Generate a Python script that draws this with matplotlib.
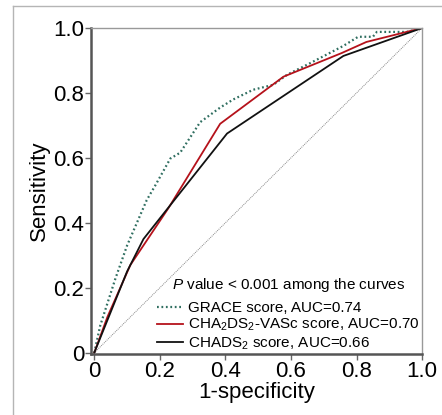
import matplotlib
matplotlib.use("Agg")
import matplotlib.pyplot as plt
from matplotlib.lines import Line2D

plt.rcParams['font.family'] = ['Liberation Sans', 'DejaVu Sans']
plt.rcParams['mathtext.fontset'] = 'custom'
plt.rcParams['mathtext.rm'] = 'Liberation Sans'
plt.rcParams['mathtext.it'] = 'Liberation Sans:italic'

# ROC curve points
grace_x = [0, 0.018, 0.064, 0.10, 0.13, 0.16, 0.186, 0.232, 0.262, 0.323, 0.384, 0.424,
           0.485, 0.546, 0.588, 0.659, 0.76, 0.805, 0.85, 0.862, 0.954, 1.0]
grace_y = [0, 0.083, 0.227, 0.33, 0.40, 0.47, 0.515, 0.598, 0.616, 0.71, 0.755, 0.78,
           0.81, 0.825, 0.856, 0.892, 0.945, 0.973, 0.973, 0.988, 0.988, 1.0]
cha2_x = [0, 0.04, 0.11, 0.226, 0.384, 0.577, 0.755, 0.83, 1.0]
cha2_y = [0, 0.11, 0.27, 0.445, 0.705, 0.85, 0.923, 0.957, 1.0]
chads_x = [0, 0.04, 0.10, 0.15, 0.405, 0.76, 1.0]
chads_y = [0, 0.10, 0.25, 0.35, 0.675, 0.914, 1.0]

labels = ['GRACE score, AUC=0.74',
          r'CHA$_2$DS$_2$-VASc score, AUC=0.70',
          r'CHADS$_2$ score, AUC=0.66']
ticks = [0, 0.2, 0.4, 0.6, 0.8, 1.0]
tick_labels = ['0', '0.2', '0.4', '0.6', '0.8', '1.0']

fig = plt.figure(figsize=(4.42, 4.15), dpi=100)
ax = fig.add_axes([0.2059, 0.147, 0.749, 0.7855])

# outer frame of the figure panel
fig.add_artist(Line2D([13/442, 13/442], [0, 1 - 6/415], transform=fig.transFigure,
                      color='#b5b5b5', lw=1))
fig.add_artist(Line2D([13/442, 1], [1 - 6/415, 1 - 6/415], transform=fig.transFigure,
                      color='#b5b5b5', lw=1))

ax.plot([0, 1], [0, 1], color='#888888', lw=0.7, linestyle=(0, (1, 1)))
l1, = ax.plot(grace_x, grace_y, color='#2f6e60', lw=1.6, linestyle=(0, (0.8, 1.2)))
l2, = ax.plot(cha2_x, cha2_y, color='#b5121b', lw=1.3)
l3, = ax.plot(chads_x, chads_y, color='#111111', lw=1.3)

ax.set_xlim(-0.01, 1.0)
ax.set_ylim(-0.004, 1.0)
ax.set_xticks(ticks)
ax.set_xticklabels(tick_labels)
ax.set_yticks(ticks)
ax.set_yticklabels(tick_labels)
ax.tick_params(labelsize=16, length=4, width=1, color='#666666', pad=1)

for s in ['left', 'bottom']:
    ax.spines[s].set_color('#555555')
    ax.spines[s].set_linewidth(1.8)
for s in ['top', 'right']:
    ax.spines[s].set_color('#999999')
    ax.spines[s].set_linewidth(1)

ax.set_xlabel('1-specificity', fontsize=16, labelpad=0)
ax.set_ylabel('Sensitivity', fontsize=16, labelpad=2)

leg = ax.legend([l1, l2, l3], labels, loc='lower right', frameon=False, fontsize=11,
                title=r'$\it{P}$ value < 0.001 among the curves', title_fontsize=11,
                handlelength=1.7, handletextpad=0.33, labelspacing=0.12,
                borderaxespad=0.05, borderpad=0.1)
leg._legend_box.sep = 5  # a bit more room under the title

fig.savefig('out.png', dpi=100)
